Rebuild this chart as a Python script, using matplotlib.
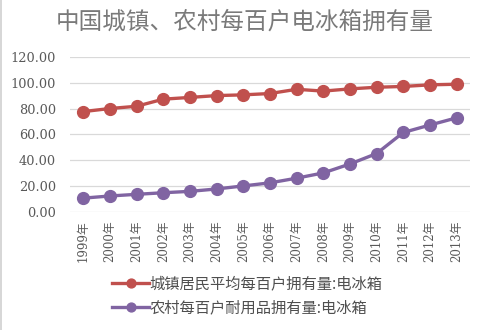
"""
Refrigerators per 100 households, urban vs rural China, 1999-2013
"""
import matplotlib
matplotlib.use("Agg")
import matplotlib.pyplot as plt
from matplotlib.lines import Line2D

plt.rcParams['font.family'] = ['Noto Sans CJK SC', 'DejaVu Sans']

years = ["1999年", "2000年", "2001年", "2002年", "2003年", "2004年", "2005年", "2006年",
         "2007年", "2008年", "2009年", "2010年", "2011年", "2012年", "2013年"]
urban = [77.74, 80.13, 81.87, 87.38, 88.73, 90.15, 90.72, 91.75,
         95.03, 93.63, 95.35, 96.61, 97.23, 98.48, 98.96]
rural = [10.64, 12.31, 13.59, 14.83, 15.89, 17.75, 20.10, 22.48,
         26.12, 30.19, 37.11, 45.19, 61.54, 67.32, 72.90]
yticks = [0, 20, 40, 60, 80, 100, 120]

urban_label = "城镇居民平均每百户拥有量:电冰箱"
rural_label = "农村每百户耐用品拥有量:电冰箱"
title = "中国城镇、农村每百户电冰箱拥有量"

RED = "#C0504D"
PURPLE = "#8064A2"
GREY = "#595959"

fig = plt.figure(figsize=(4.89, 3.30), dpi=100)
ax = fig.add_axes([0.143, 0.358, 0.818, 0.469])

x = list(range(len(years)))
ax.plot(x, urban, '-o', color=RED, lw=2.4, ms=8.5, label=urban_label)
ax.plot(x, rural, '-o', color=PURPLE, lw=2.4, ms=8.5, label=rural_label)

ax.set_xlim(-0.5, len(years) - 0.5)
ax.set_ylim(0, 120)
ax.set_yticks(yticks)
ax.set_yticklabels([f"{v:.2f}" for v in yticks], fontsize=9.3, color=GREY,
                   family=['DejaVu Serif'])
ax.set_xticks(x)
ax.set_xticklabels(years, rotation=90, fontsize=8.5, color=GREY,
                   family=['DejaVu Serif', 'Noto Sans CJK SC'])
ax.tick_params(axis='both', length=0, pad=6)
ax.tick_params(axis='y', pad=10)
ax.grid(axis='y', color="#D9D9D9", lw=0.9)
ax.set_axisbelow(True)
for s in ax.spines.values():
    s.set_visible(False)

fig.text(0.50, 0.933, title, ha='center', va='center', fontsize=17,
         color="#7A7A7A", fontweight='light')

fig.legend(loc='upper left', bbox_to_anchor=(0.230, 0.166), frameon=False,
           fontsize=11, labelcolor="#4F4F4F", handlelength=2.4, handletextpad=0.0,
           labelspacing=0.45, borderaxespad=0, borderpad=0, markerscale=0.75)

# thin frame edge on the left side
fig.add_artist(Line2D([0.003, 0.003], [0, 1], color="#D0D0D0", lw=1.2,
                      transform=fig.transFigure))

fig.savefig("out.png", dpi=100)
plt.close(fig)
